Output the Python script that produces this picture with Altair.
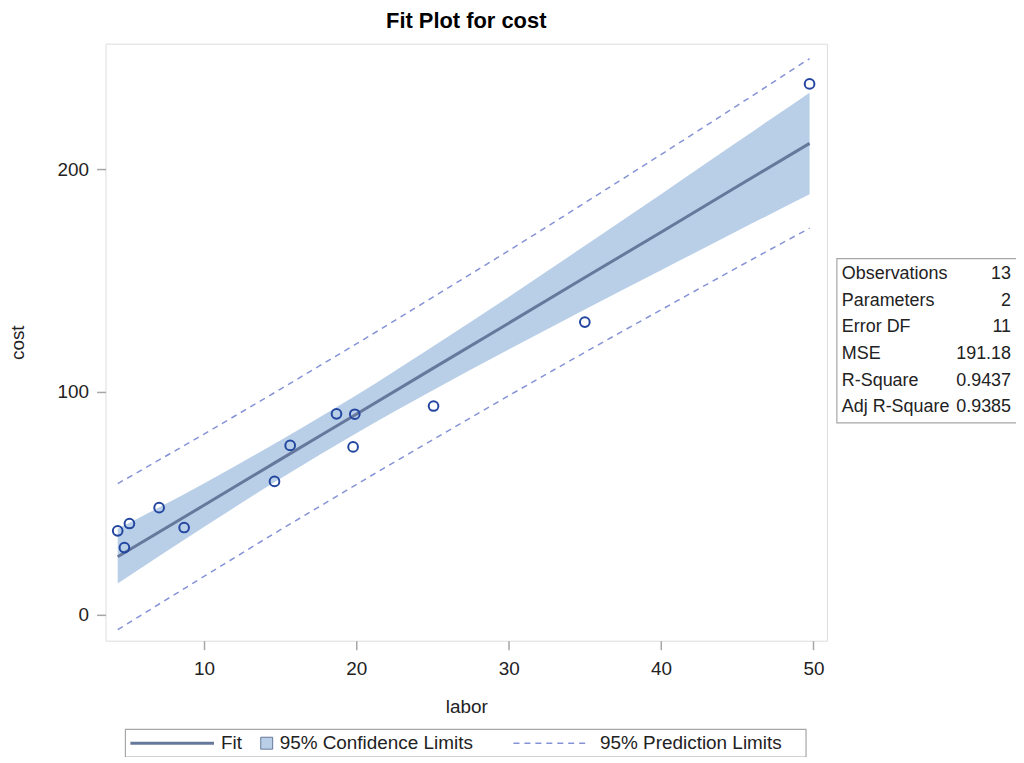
import altair as alt
import pandas as pd

obs_labor = [4.34, 4.78, 5.11, 7.06, 8.70, 14.63, 15.66, 18.70, 19.90, 19.79, 25.07, 35.00, 49.75]
obs_cost = [37.6, 30.1, 40.9, 48.0, 39.1, 59.8, 76.0, 90.2, 90.0, 75.3, 93.7, 131.4, 238.4]

# Fit line and limits read at several labor positions
band_labor = [4.34, 10, 15, 17.6, 20, 25, 30, 35, 40, 45, 49.75]
fit_cost = [26.0, 49.1, 69.6, 80.2, 90.0, 110.5, 130.9, 151.4, 171.8, 192.3, 211.7]
clm_lower = [14.0, 39.3, 61.0, 71.8, 81.5, 100.7, 119.1, 137.1, 154.7, 172.3, 188.9]
clm_upper = [38.5, 58.9, 78.2, 88.6, 98.5, 120.3, 142.7, 165.7, 188.9, 212.3, 234.5]
pl_lower = [-6.8, 17.1, 38.0, 48.6, 58.4, 78.5, 98.3, 117.8, 136.9, 155.9, 173.6]
pl_upper = [58.8, 81.1, 101.2, 111.8, 121.6, 142.5, 163.5, 185.0, 206.7, 228.7, 249.8]

# Fit statistics table
stat_names = ["Observations", "Parameters", "Error DF", "MSE", "R-Square", "Adj R-Square"]
stat_values = ["13", "2", "11", "191.18", "0.9437", "0.9385"]

# Legend entries
legend_labels = ["Fit", "95% Confidence Limits", "95% Prediction Limits"]

title_text = ["Fit Plot for cost"]

FONT = "Liberation Sans"
FRAME = "#a6a6a6"
FIT_C = "#66789b"
CLM_C = "#b9cfe8"
PL_C = "#8593d6"
PT_C = "#2346a0"
TXT = "#222222"

obs = pd.DataFrame({"labor": obs_labor, "cost": obs_cost})
band = pd.DataFrame({"labor": band_labor, "fit": fit_cost, "clo": clm_lower,
                     "chi": clm_upper, "plo": pl_lower, "phi": pl_upper})
stats = pd.DataFrame({"name": stat_names, "value": stat_values, "i": list(range(len(stat_names)))})
one = pd.DataFrame({"k": [0]})
leg = pd.DataFrame({"label": legend_labels, "px": [116, 175, 497]})
ttl = pd.DataFrame({"t": title_text})

xscale = alt.Scale(domain=[3.54, 50.89], nice=False, zero=False)
yscale = alt.Scale(domain=[-11.76, 256.5], nice=False, zero=False)

xaxis = alt.Axis(values=[10, 20, 30, 40, 50], title="labor", tickSize=9, labelPadding=10,
                 domain=False, grid=False, labelFontSize=19, titleFontSize=19,
                 titleFontWeight="normal", titleY=66, titleBaseline="middle",
                 labelColor=TXT, titleColor=TXT, tickColor=FRAME, tickWidth=1.5,
                 labelFont=FONT, titleFont=FONT)
yaxis = alt.Axis(values=[0, 100, 200], title="cost", tickSize=9, labelPadding=8,
                 domain=False, grid=False, labelFontSize=19, titleFontSize=19,
                 titleFontWeight="normal", titleX=-88, titleY=300, titleAngle=-90,
                 titleBaseline="middle", titleAlign="center",
                 labelColor=TXT, titleColor=TXT, tickColor=FRAME, tickWidth=1.5,
                 labelFont=FONT, titleFont=FONT)

base = alt.Chart(band)

clm = base.mark_area(color=CLM_C, interpolate="monotone").encode(
    x=alt.X("labor:Q", scale=xscale, axis=xaxis),
    y=alt.Y("clo:Q", scale=yscale, axis=yaxis),
    y2="chi:Q",
)
fit = base.mark_line(color=FIT_C, strokeWidth=3).encode(x="labor:Q", y="fit:Q")
plo = base.mark_line(color=PL_C, strokeWidth=1.5, strokeDash=[6, 5], interpolate="monotone").encode(
    x="labor:Q", y="plo:Q")
phi = base.mark_line(color=PL_C, strokeWidth=1.5, strokeDash=[6, 5], interpolate="monotone").encode(
    x="labor:Q", y="phi:Q")
pts = alt.Chart(obs).mark_point(shape="circle", filled=False, color=PT_C, size=95,
                                strokeWidth=2, opacity=1).encode(x="labor:Q", y="cost:Q")

# Title (drawn as text above the plot area)
title = alt.Chart(ttl).mark_text(align="center", baseline="alphabetic", font=FONT, fontSize=22,
                                 fontWeight="bold", color="black").encode(
    x=alt.value(362.5), y=alt.value(-15.5), text="t:N")

# Statistics table (positioned to the right of the plot area)
tbox = alt.Chart(one).mark_rect(fill="white", stroke=FRAME, strokeWidth=1.2).encode(
    x=alt.value(735), x2=alt.value(916), y=alt.value(216), y2=alt.value(381))
tname = alt.Chart(stats).transform_calculate(py="231.5 + 26.8 * datum.i").mark_text(
    align="left", baseline="middle", font=FONT, fontSize=18, color=TXT).encode(
    x=alt.value(740), y=alt.Y("py:Q", scale=None), text="name:N")
tval = alt.Chart(stats).transform_calculate(py="231.5 + 26.8 * datum.i").mark_text(
    align="right", baseline="middle", font=FONT, fontSize=18, color=TXT).encode(
    x=alt.value(910), y=alt.Y("py:Q", scale=None), text="value:N")

# Legend (below the plot)
lbox = alt.Chart(one).mark_rect(fill="white", stroke=FRAME, strokeWidth=1.2).encode(
    x=alt.value(20), x2=alt.value(704), y=alt.value(689), y2=alt.value(717))
lfit = alt.Chart(one).mark_rule(color=FIT_C, strokeWidth=3).encode(
    x=alt.value(25), x2=alt.value(109), y=alt.value(703))
lclm = alt.Chart(one).mark_rect(fill=CLM_C, stroke=FIT_C, strokeWidth=1).encode(
    x=alt.value(156), x2=alt.value(168), y=alt.value(697), y2=alt.value(709))
lpl = alt.Chart(one).mark_rule(color=PL_C, strokeWidth=1.5, strokeDash=[6, 5]).encode(
    x=alt.value(410), x2=alt.value(486), y=alt.value(703))
ltxt = alt.Chart(leg).mark_text(align="left", baseline="middle", font=FONT, fontSize=19,
                                color=TXT).encode(
    x=alt.X("px:Q", scale=None), y=alt.value(703), text="label:N")

chart = alt.layer(clm, fit, plo, phi, pts, title, tbox, tname, tval, lbox, lfit, lclm, lpl, ltxt).properties(
    width=725, height=600,
    autosize=alt.AutoSizeParams(type="none"),
    padding={"left": 98, "top": 34, "right": 190, "bottom": 115},
).configure_view(stroke=FRAME, strokeWidth=1.6).configure(background="white")

chart.save("out.html", embed_options={"renderer": "svg", "actions": False})
